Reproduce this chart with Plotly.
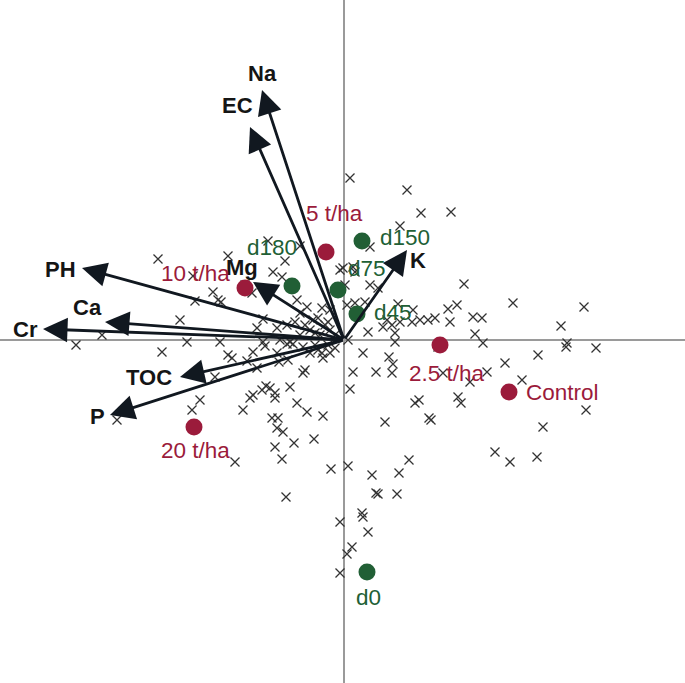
import plotly.graph_objects as go

# ---- sample scores (biplot units) ----
sample_x = [
    -1.86, -1.51, -1.16, -0.76, -0.44, -0.59, -0.71, -0.62, -0.99, -0.92, -1.31, -1.26, -1.23, -1.49, -1.64, -2.42,
    -0.47, -0.37, -0.22, -0.44, -0.31, -0.81, -0.87, -0.67, -0.57, -0.39, -0.34, -0.64, -0.04, -1.57, -1.24,
    -0.26, -0.19, -0.14, -0.09, -0.24, -0.16, -0.29, -0.44, -0.14, -0.49, -0.81, -0.54,
    0.06, 0.63, 0.77, 1.07, 0.56, 0.26, -0.01, 0.09, 0.11, 0.01, 0.26, 0.34, 1.20, 1.69, 2.40, 0.03, 0.11, 0.21,
    0.54, 0.69, 1.04, 1.13, 1.29, 1.38, 1.06, 0.43, 0.48, 0.39, 0.51, 0.68, 0.76, 0.84, 0.91, 0.56, 0.24, 1.31,
    2.17, 0.04, 0.51, 1.39, 2.23,
    0.94, 2.52, 0.19, 0.45, 0.49, 1.94, 1.61, 0.09, 0.32, 0.48, 0.99, 1.43, 1.26, 1.78, 0.06, 0.71, 0.75, 1.14,
    1.17, 2.42, 0.41, 0.85, 0.87, 1.99, 1.51, 1.66, 1.93, 0.04, 0.65, 0.28, 0.55, 0.32, 0.34, 0.53, 0.18, -0.04,
    0.19, 0.24, 0.08, 0.03, -0.04, 2.22, -0.14,
    -2.68, -1.82, -1.16, -1.12, -0.97, -0.91, -0.79, -0.67, -0.57, -0.51, -0.41, -0.34, -0.22, -0.21, -0.87, -0.65,
    -0.56, -0.41, -1.29, -1.44, -1.52, -2.27, -1.01, -0.91, -0.82, -0.78, -0.74, -0.69, -0.54, -0.94, -0.69, -0.47,
    -0.37, -0.21, -0.72, -0.66, -0.67, -0.61, -0.30, -0.50, -0.69, -0.62, -1.09, -0.13, -0.58, -0.39, -0.16, -0.09,
    -0.29, -0.26,
]
sample_y = [
    0.81, 0.64, 0.84, 0.99, 0.94, 0.79, 0.68, 0.63, 0.55, 0.47, 0.48, 0.40, 0.38, 0.39, 0.20, 0.05,
    0.40, 0.33, 0.32, 0.27, 0.20, 0.21, 0.12, 0.12, 0.15, 0.15, 0.10, 0.00, 0.70, -0.02, -0.02,
    0.22, 0.15, 0.10, 0.05, 0.05, 0.18, 0.07, 0.05, 0.30, 0.18, -0.02, -0.02,
    1.62, 1.50, 1.27, 1.28, 1.14, 0.93, 0.72, 0.73, 0.68, 0.55, 0.55, 0.52, 0.56, 0.37, 0.33, 0.35, 0.37, 0.38,
    0.36, 0.30, 0.31, 0.35, 0.23, 0.22, 0.18, 0.20, 0.15, 0.13, 0.07, 0.18, 0.20, 0.20, 0.22, 0.18, 0.08, 0.06,
    0.14, 0.00, -0.02, -0.03, -0.03,
    -0.07, -0.08, -0.13, -0.17, -0.24, -0.15, -0.23, -0.32, -0.32, -0.33, -0.33, -0.32, -0.42, -0.40, -0.49, -0.63,
    -0.60, -0.57, -0.63, -0.70, -0.82, -0.78, -0.80, -0.87, -1.12, -1.22, -1.17, -1.26, -1.20, -1.35, -1.33, -1.53,
    -1.54, -1.54, -1.73, -1.82, -1.77, -1.92, -2.07, -2.14, -2.33, -0.07, -0.13,
    -0.05, -0.12, -0.15, -0.18, -0.21, -0.12, -0.06, -0.13, -0.04, -0.04, -0.07, -0.13, -0.13, -0.18, -0.28, -0.22,
    -0.20, -0.33, -0.37, -0.60, -0.70, -0.80, -0.70, -0.55, -0.50, -0.46, -0.48, -0.53, -0.47, -0.58, -0.58, -0.63,
    -0.72, -0.76, -0.78, -0.78, -0.88, -0.92, -0.99, -1.03, -1.07, -1.19, -1.22, -1.29, -1.57, -0.30, -0.05, -0.08,
    -0.05, -0.10,
]

# ---- variable loadings (arrow tips) ----
var_names = ["Na", "EC", "PH", "Ca", "Cr", "Mg", "K", "TOC", "P"]
var_x = [-0.82, -0.94, -2.62, -2.39, -3.01, -0.91, 0.63, -1.64, -2.34]
var_y = [2.50, 2.13, 0.72, 0.18, 0.11, 0.58, 0.90, -0.37, -0.75]

# ---- dose centroids ----
dose_names = ["5 t/ha", "10 t/ha", "20 t/ha", "2.5 t/ha", "Control"]
dose_x = [-0.18, -0.99, -1.50, 0.96, 1.65]
dose_y = [0.88, 0.52, -0.87, -0.05, -0.52]

# ---- time centroids ----
day_names = ["d180", "d150", "d75", "d45", "d0"]
day_x = [-0.52, 0.18, -0.06, 0.13, 0.23]
day_y = [0.54, 0.99, 0.50, 0.26, -2.32]

RED = "#9b1b3b"
GREEN = "#215f35"
INK = "#111820"
FONT = "Arial, Liberation Sans, sans-serif"

fig = go.Figure()
fig.add_trace(go.Scatter(
    x=sample_x, y=sample_y, mode="markers",
    marker=dict(symbol="x-thin", size=9, line=dict(width=1.3, color="#333333"), color="#333333"),
    hoverinfo="skip", showlegend=False,
))
fig.add_trace(go.Scatter(
    x=dose_x, y=dose_y, mode="markers",
    marker=dict(size=17, color=RED), showlegend=False,
))
fig.add_trace(go.Scatter(
    x=day_x, y=day_y, mode="markers",
    marker=dict(size=17, color=GREEN), showlegend=False,
))

annotations = []
# arrows
for vx, vy in zip(var_x, var_y):
    annotations.append(dict(
        x=vx, y=vy, ax=0, ay=0, xref="x", yref="y", axref="x", ayref="y",
        showarrow=True, arrowhead=2, arrowsize=1.75, arrowwidth=2.8, arrowcolor=INK,
        text="", standoff=0, startstandoff=0,
    ))

var_offsets = {
    "Na": (0, 17), "EC": (-13, 22), "PH": (-22, -1), "Ca": (-18, 15), "Cr": (-18, 0),
    "Mg": (-11, 15), "K": (11, -10), "TOC": (-31, 0), "P": (-13, -1),
}
for name, vx, vy in zip(var_names, var_x, var_y):
    dx, dy = var_offsets[name]
    annotations.append(dict(
        x=vx, y=vy, xref="x", yref="y", text=f"<b>{name}</b>", showarrow=False,
        xshift=dx, yshift=dy, font=dict(family=FONT, size=22, color="#151515"),
    ))

dose_offsets = {
    "5 t/ha": (8, 39, "center"), "10 t/ha": (-50, 15, "center"), "20 t/ha": (1, -23, "center"),
    "2.5 t/ha": (7, -28, "center"), "Control": (15, 0, "left"),
}
for name, px, py in zip(dose_names, dose_x, dose_y):
    dx, dy, anc = dose_offsets[name]
    annotations.append(dict(
        x=px, y=py, xref="x", yref="y", text=name, showarrow=False, xanchor=anc,
        xshift=dx, yshift=dy, font=dict(family=FONT, size=22.5, color=RED),
    ))

day_offsets = {
    "d180": (-20, 39, "center"), "d150": (16, 4, "left"), "d75": (29, 22, "center"),
    "d45": (15, 2, "left"), "d0": (1, -25, "center"),
}
for name, px, py in zip(day_names, day_x, day_y):
    dx, dy, anc = day_offsets[name]
    annotations.append(dict(
        x=px, y=py, xref="x", yref="y", text=name, showarrow=False, xanchor=anc,
        xshift=dx, yshift=dy, font=dict(family=FONT, size=22.5, color=GREEN),
    ))

axis_common = dict(
    showgrid=False, showticklabels=False, ticks="", showline=False,
    zeroline=True, zerolinecolor="#9a9a9a", zerolinewidth=1.6,
)
fig.update_layout(
    width=685, height=683,
    margin=dict(l=0, r=0, t=0, b=0),
    paper_bgcolor="white", plot_bgcolor="white",
    xaxis=dict(range=[-3.44, 3.41], **axis_common),
    yaxis=dict(range=[-3.43, 3.40], **axis_common),
    annotations=annotations,
    showlegend=False,
)
fig.write_html(
    "out.html",
    config={"displayModeBar": False},
    post_script="document.body.style.margin='0';document.body.style.overflow='hidden';",
)
